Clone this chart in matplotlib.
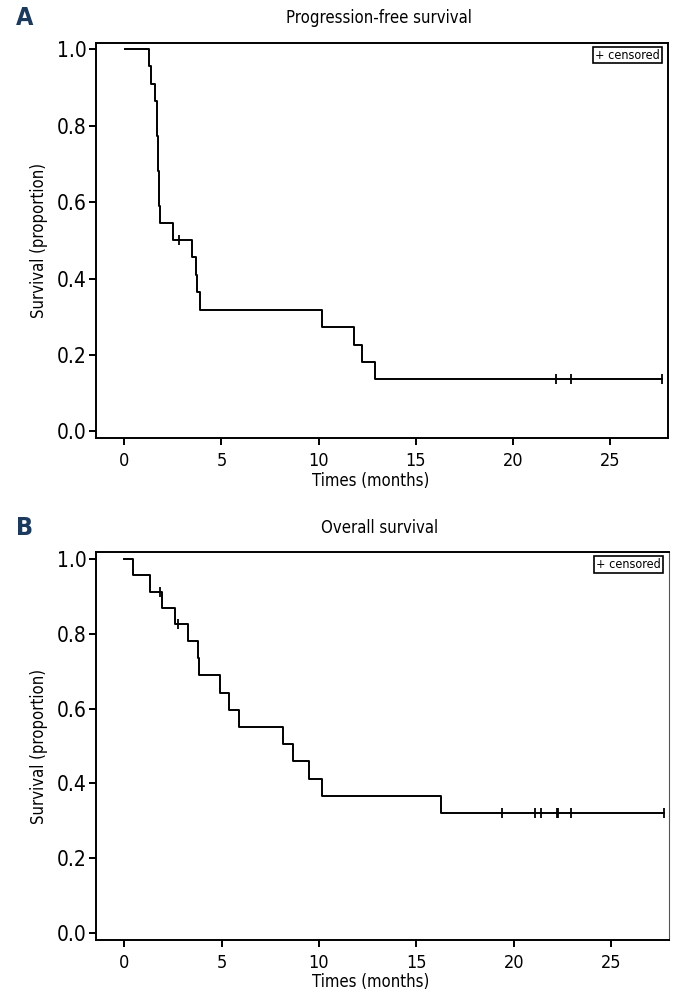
import matplotlib
matplotlib.use("Agg")
import matplotlib.pyplot as plt

plt.rcParams['font.family'] = ['DejaVu Sans']
plt.rcParams['font.stretch'] = 'condensed'

# progression-free survival (step times in months, survival after each step)
pfs_t = [0.05, 1.25, 1.37, 1.60, 1.68, 1.70, 1.72, 1.75, 1.78, 1.80, 1.82,
         2.50, 3.48, 3.70, 3.76, 3.90, 10.16, 11.84, 12.24, 12.92, 27.66]
pfs_s = [1.0, 0.955, 0.909, 0.864, 0.818, 0.773, 0.727, 0.682, 0.636, 0.591, 0.545,
         0.500, 0.455, 0.409, 0.364, 0.318, 0.273, 0.227, 0.182, 0.136, 0.136]
pfs_cens_t = [2.80, 22.2, 23.0, 27.66]
pfs_cens_s = [0.500, 0.136, 0.136, 0.136]

# overall survival
os_t = [0.0, 0.45, 1.30, 1.96, 2.58, 3.26, 3.78, 3.82, 4.89, 5.40, 5.91,
        8.14, 8.65, 9.50, 10.14, 16.26, 27.70]
os_s = [1.0, 0.957, 0.912, 0.869, 0.826, 0.781, 0.735, 0.690, 0.642, 0.596, 0.550,
        0.505, 0.459, 0.413, 0.367, 0.322, 0.322]
os_cens_t = [1.85, 2.75, 19.4, 21.07, 21.4, 22.2, 22.27, 22.93, 27.7]
os_cens_s = [0.912, 0.826, 0.322, 0.322, 0.322, 0.322, 0.322, 0.322, 0.322]

xticks = [0, 5, 10, 15, 20, 25]
yticks = [0.0, 0.2, 0.4, 0.6, 0.8, 1.0]
navy = '#1b3a5e'

fig = plt.figure(figsize=(6.79, 10.02), dpi=100)
axA = fig.add_axes([0.1414, 0.5626, 0.8429, 0.3948])
axB = fig.add_axes([0.1414, 0.0619, 0.8443, 0.3869])

panels = [
    (axA, pfs_t, pfs_s, pfs_cens_t, pfs_cens_s, 'Progression-free survival', 'A', (-0.018, 1.017)),
    (axB, os_t, os_s, os_cens_t, os_cens_s, 'Overall survival', 'B', (-0.019, 1.019)),
]

for ax, t, s, ct, cs, title, letter, ylim in panels:
    ax.step(t, s, where='post', color='black', linewidth=1.4)
    ax.plot(ct, cs, linestyle='none', marker='|', markersize=7,
            markeredgewidth=1.3, color='black')
    ax.set_xlim(-1.45, 27.98)
    ax.set_ylim(*ylim)
    ax.set_xticks(xticks)
    ax.set_xticklabels([str(v) for v in xticks], fontsize=13)
    ax.set_yticks(yticks)
    ax.set_yticklabels(['%.1f' % v for v in yticks], fontsize=15)
    ax.tick_params(direction='out', length=5, width=1.4, pad=2)
    ax.tick_params(axis='x', pad=5)
    for sp in ax.spines.values():
        sp.set_linewidth(1.4)
    ax.set_xlabel('Times (months)', fontsize=12, labelpad=1, x=0.48)
    ax.set_ylabel('Survival (proportion)', fontsize=12, labelpad=6)
    ax.set_title(title, fontsize=12, pad=14, x=0.495)
    ax.text(0.985, 0.985, '+ censored', transform=ax.transAxes, ha='right', va='top',
            fontsize=9, bbox=dict(boxstyle='square,pad=0.15', facecolor='white',
                                  edgecolor='black', linewidth=1.2))
    ax.text(-0.14, 1.062, letter, transform=ax.transAxes, fontsize=18,
            fontweight='bold', color=navy, ha='left', va='center')

axB.spines['right'].set_linewidth(0.8)
axB.spines['right'].set_color('#555555')

fig.savefig('out.png', dpi=100)
